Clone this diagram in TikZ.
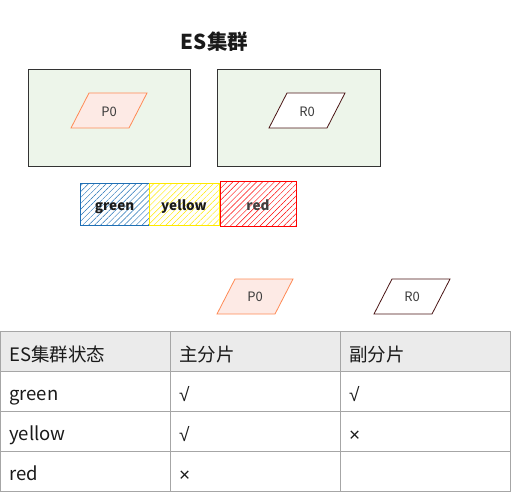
\documentclass[tikz,border=0pt]{standalone}
\usepackage{fontspec}
\setmainfont{Noto Sans CJK SC}
\newfontfamily\symfont{Liberation Sans}
\usetikzlibrary{patterns.meta}
\definecolor{boxfill}{HTML}{EDF5EA}
\definecolor{boxline}{HTML}{333333}
\definecolor{pfill}{HTML}{FDEAE5}
\definecolor{pline}{HTML}{FF8A55}
\definecolor{rline}{HTML}{4A1515}
\definecolor{gblue}{HTML}{1F6FB5}
\definecolor{gyellow}{HTML}{FFE900}
\definecolor{gred}{HTML}{FF0000}
\definecolor{thfill}{HTML}{EBEBEB}
\definecolor{tline}{HTML}{A6A6A6}
\definecolor{txt}{HTML}{1A1A1A}
\tikzset{
  hostbox/.style={draw=boxline, fill=boxfill, line width=0.8pt},
  pshard/.style={draw=pline, fill=pfill, line width=0.8pt},
  rshard/.style={draw=rline, fill=white, line width=0.8pt},
  shardtxt/.style={font=\fontsize{13}{15}\selectfont, text=txt!85, inner sep=0pt, anchor=base},
  hatchbox/.style={line width=0.9pt, pattern={Lines[angle=45,distance=4.2pt,line width=0.45pt]}},
  statetxt/.style={font=\fontsize{13.5}{15}\selectfont\bfseries, text=txt, inner sep=0pt, anchor=base},
  cell/.style={font=\fontsize{18.5}{20}\selectfont, text=txt, anchor=base west, inner sep=0pt},
  symcell/.style={font=\fontsize{19}{20}\selectfont\symfont, text=txt, anchor=base west, inner sep=0pt},
}
\begin{document}
\begin{tikzpicture}[x=1pt,y=-1pt]
\useasboundingbox (0,0) rectangle (511,492);
% title
\node[font=\fontsize{20.5}{24}\selectfont\bfseries, text=txt, inner sep=0pt, anchor=base] (title) at (214.5,50) {ES集群};
% host boxes
\draw[hostbox] (28,69) rectangle (190,166);
\node[inner sep=0pt] (hostA) at (109,117.5) {};
\draw[hostbox] (217,69) rectangle (380,166);
\node[inner sep=0pt] (hostB) at (298.5,117.5) {};
% shards in boxes
\draw[pshard] (89,93) -- (147,93) -- (129,128) -- (71,128) -- cycle;
\node[shardtxt] (p0a) at (109,116.5) {P0};
\draw[rshard] (287,93) -- (345,93) -- (327,128) -- (269,128) -- cycle;
\node[shardtxt] (r0a) at (307,116.5) {R0};
% states
\draw[hatchbox, draw=gblue, pattern color=gblue] (80,183) rectangle (149,225);
\node[statetxt] (sg) at (114.5,210) {green};
\draw[hatchbox, draw=gyellow, pattern color=gyellow] (149,183) rectangle (219,225);
\node[statetxt] (sy) at (184,210) {yellow};
\draw[hatchbox, draw=gred, pattern color=gred] (220,181) rectangle (296,226);
\node[statetxt, text=black!75] (sr) at (258,210) {red};
% lower shards
\draw[pshard] (235,279) -- (293,279) -- (275,314) -- (217,314) -- cycle;
\node[shardtxt] (p0b) at (255,301.5) {P0};
\draw[rshard] (392,279) -- (450,279) -- (432,314) -- (374,314) -- cycle;
\node[shardtxt] (r0b) at (412,301.5) {R0};
% table
\fill[thfill] (0,331) rectangle (511,371);
\draw[tline, line width=0.8pt] (0.5,331) rectangle (510.5,491);
\foreach \y in {371,411,451} \draw[tline, line width=0.8pt] (0,\y) -- (511,\y);
\foreach \x in {170,340} \draw[tline, line width=0.8pt] (\x,331) -- (\x,491);
\node[cell] (h1) at (9,361) {ES集群状态};
\node[cell] (h2) at (179,361) {主分片};
\node[cell] (h3) at (349,361) {副分片};
\node[cell] (c11) at (9,400) {green};
\node[symcell] (c12) at (179,401) {√};
\node[symcell] (c13) at (349,401) {√};
\node[cell] (c21) at (9,440) {yellow};
\node[symcell] (c22) at (179,441) {√};
\node[symcell] (c23) at (349,441) {×};
\node[cell] (c31) at (9,480) {red};
\node[symcell] (c32) at (179,481) {×};
\end{tikzpicture}
\end{document}
